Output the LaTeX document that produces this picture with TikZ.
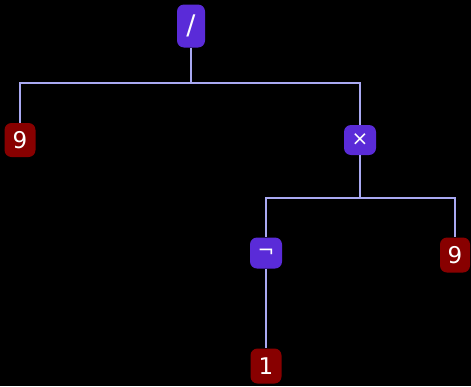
\documentclass[tikz,border=0pt]{standalone}
\usepackage{fontspec}
\setmainfont{DejaVu Sans}
\usetikzlibrary{positioning,calc}
\definecolor{OpPurple}{HTML}{5A2BD8}
\definecolor{LeafRed}{HTML}{880000}
\definecolor{EdgeLav}{HTML}{A9A9F2}

\begin{document}
\begin{tikzpicture}[x=1pt, y=-1pt,
    op/.style={fill=OpPurple, text=white, rounded corners=7pt, minimum width=32pt, minimum height=31pt, inner sep=0pt, font=\fontsize{20}{20}\selectfont},
    leaf/.style={fill=LeafRed, text=white, rounded corners=7pt, minimum width=31pt, minimum height=35pt, inner sep=0pt, font=\fontsize{23}{23}\selectfont},
    edge/.style={draw=EdgeLav, line width=1.6pt}]
    % Background
    \fill[black] (0,0) rectangle (471,386);

    % Operators
    \node[op, minimum width=28pt, minimum height=43pt, font=\fontsize{27}{27}\selectfont] (div) at (191,26) {/};
    \node[op, minimum height=30pt] (mul) at (360,140) {×};
    \node[op] (neg) at (266,253) {¬};

    % Leaves
    \node[leaf, minimum height=34pt] (nineL) at (20,140) {9};
    \node[leaf, minimum width=30pt] (nineR) at (455,255) {9};
    \node[leaf] (one) at (266,366) {1};

    % Branch points
    \coordinate (divjoin) at (191,83);
    \coordinate (muljoin) at (360,198);

    % Edges
    \draw[edge] (div) -- (divjoin);
    \draw[edge] (divjoin) -| (nineL);
    \draw[edge] (divjoin) -| (mul);
    \draw[edge] (mul) -- (muljoin);
    \draw[edge] (muljoin) -| (neg);
    \draw[edge] (muljoin) -| (nineR);
    \draw[edge] (neg) -- (one);
\end{tikzpicture}
\end{document}
